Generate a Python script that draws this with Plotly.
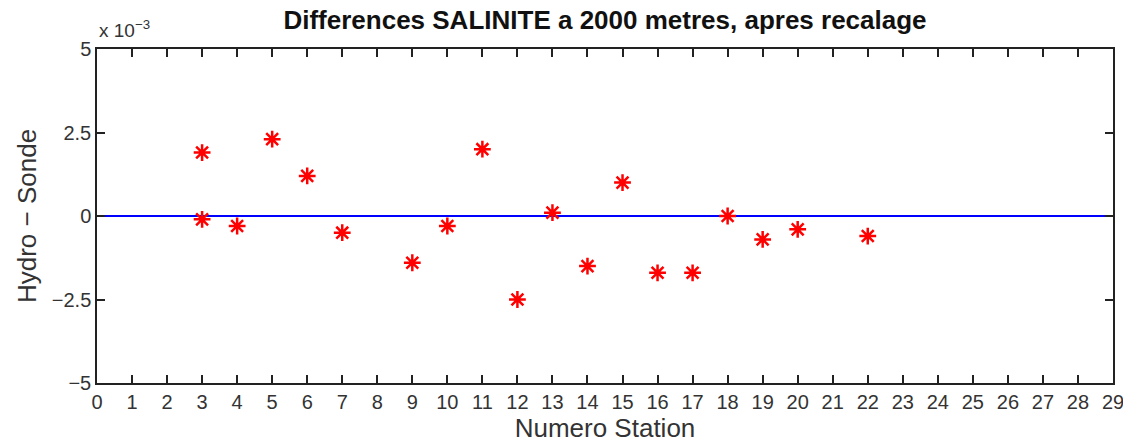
import plotly.graph_objects as go

stations = [3, 3, 4, 5, 6, 7, 9, 10, 11, 12, 13, 14, 15, 16, 17, 18, 19, 20, 22]
diff_e3 = [1.9, -0.1, -0.3, 2.3, 1.2, -0.5, -1.4, -0.3, 2.0, -2.5, 0.1, -1.5, 1.0,
           -1.7, -1.7, 0.0, -0.7, -0.4, -0.6]
diff = [v * 1e-3 for v in diff_e3]
x_ticks = list(range(0, 30))
y_ticks = [-0.005, -0.0025, 0, 0.0025, 0.005]
y_ticklabels = ["−5", "−2.5", "0", "2.5", "5"]
zero_x = [0, 29]
zero_y = [0, 0]

font = "Liberation Sans, Arial, Helvetica, sans-serif"

fig = go.Figure()
fig.add_trace(go.Scatter(x=zero_x, y=zero_y, mode="lines",
                         line=dict(color="#0000ff", width=2), showlegend=False))
fig.add_trace(go.Scatter(x=stations, y=diff, mode="markers",
                         marker=dict(symbol="asterisk-open", size=14, color="#ff0000",
                                     line=dict(color="#ff0000", width=2.5)),
                         showlegend=False))

fig.update_layout(
    width=1131, height=447,
    margin=dict(l=89, r=26, t=41, b=72),
    plot_bgcolor="white", paper_bgcolor="white",
    font=dict(family=font, color="#222"),
    title=dict(text="<b>Differences SALINITE a 2000 metres, apres recalage</b>",
               x=597 / 1131, xanchor="center", yref="container", y=1 - 12 / 447,
               yanchor="middle", font=dict(size=26, color="#111")),
    xaxis=dict(range=[0, 29], tickvals=x_ticks, ticks="inside", ticklen=8,
               tickcolor="#222", tickwidth=1.5, showline=True, linecolor="#222",
               linewidth=1.5, mirror="ticks", showgrid=False, zeroline=False,
               tickfont=dict(size=20, color="#333"),
               title=dict(text="Numero Station", font=dict(size=26, color="#333"),
                          standoff=4)),
    yaxis=dict(range=[-0.005, 0.005], tickvals=y_ticks, ticktext=y_ticklabels,
               ticks="inside", ticklen=8, tickcolor="#222", tickwidth=1.5,
               showline=True, linecolor="#222", linewidth=1.5, mirror="ticks",
               showgrid=False, zeroline=False,
               tickfont=dict(size=20, color="#333"),
               title=dict(text="Hydro − Sonde", font=dict(size=26, color="#333"),
                          standoff=8)),
    annotations=[dict(text="x 10<sup>−3</sup>", xref="paper", yref="paper",
                      x=0, y=1, xanchor="left", yanchor="bottom", yshift=6,
                      showarrow=False, font=dict(size=19, color="#333"))],
)

fig.write_html("out.html")
